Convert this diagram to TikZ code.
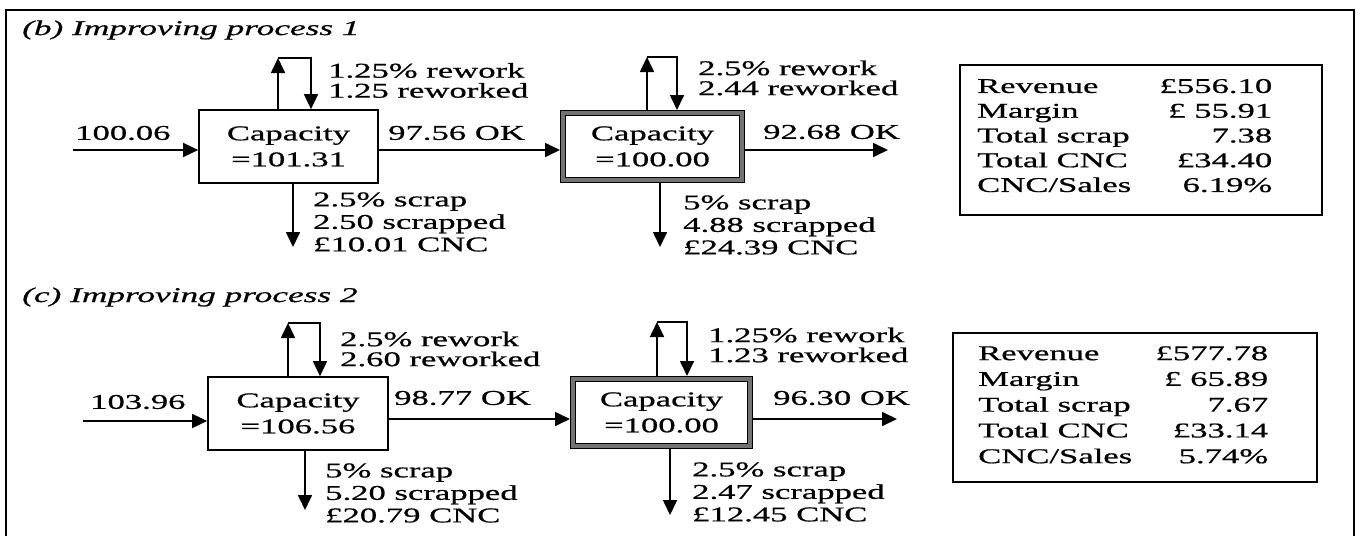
\documentclass[tikz,border=0pt]{standalone}
\usepackage{fontspec}
\setmainfont{Liberation Serif}[FakeStretch=1.65,FakeBold=0.7]
\newfontfamily\ttlfont{Liberation Serif}[FakeStretch=1.68,FakeBold=0.7]
\usetikzlibrary{arrows.meta}
\begin{document}
\begin{tikzpicture}[x=1pt,y=-1pt,
  font=\fontsize{21}{22}\selectfont,
  flow/.style={line width=1.7pt, -{Triangle[length=15pt,width=14pt]}},
  capbox/.style={draw, line width=1.7pt, align=center, inner sep=0pt,
    minimum width=#1, minimum height=73pt, font=\fontsize{21}{26}\selectfont},
  capboxd/.style={draw=black, line width=1.2pt, double=black!55, double distance=4pt,
    outer sep=3.2pt, align=center, inner sep=0pt,
    minimum width=#1, minimum height=66.6pt, font=\fontsize{21}{26}\selectfont},
  lbl/.style={anchor=west, inner sep=0pt, align=left, font=\fontsize{21}{22.5}\selectfont},
  rwk/.style={anchor=west, inner sep=0pt, align=left, font=\fontsize{21}{20}\selectfont},
  ttl/.style={anchor=west, inner sep=0pt, font=\fontsize{21}{22}\ttlfont\itshape},
  sumbox/.style={draw, line width=1.5pt, inner sep=0pt},
  tabnode/.style={anchor=west, inner sep=0pt}
]
\useasboundingbox (0,0) rectangle (1356,536);
% outer frame
\draw[line width=2pt] (5.5,536) -- (5.5,10) -- (1353.5,10) -- (1353.5,536);

% ================= (b) =================
\node[ttl] (tb) at (22,30) {(b) Improving process 1};

\node[capbox=179pt] (b1) at (288.5,146.5) {Capacity\\=101.31};
\node[capboxd=178.6pt] (b2) at (652.5,146.5) {Capacity\\=100.00};

\coordinate (bin) at (73,150);
\coordinate (bout) at (888,150);
\draw[flow] (bin) -- (b1.west |- bin);
\draw[flow] (b1.east |- bin) -- (b2.west |- bin);
\draw[flow] (b2.east |- bout) -- (bout);

\node[lbl] (lbin) at (75,133) {100.06};
\node[lbl] (lb12) at (388,133) {97.56 OK};
\node[lbl] (lbout) at (763,132) {92.68 OK};

% rework loops
\coordinate (b1u) at (278,58);
\coordinate (b1d) at (311,58);
\draw[flow] (b1.north -| b1u) -- (b1u);
\draw[flow] (b1u) -- (b1d) -- (b1.north -| b1d);
\coordinate (b2u) at (647,57);
\coordinate (b2d) at (677,57);
\draw[flow] (b2.north -| b2u) -- (b2u);
\draw[flow] (b2u) -- (b2d) -- (b2.north -| b2d);

\node[rwk] (rb1) at (328,80.5) {1.25\% rework\\1.25 reworked};
\node[rwk] (rb2) at (698,78) {2.5\% rework\\2.44 reworked};

% scrap
\coordinate (b1s) at (293,247);
\coordinate (b2s) at (660,247);
\draw[flow] (b1.south -| b1s) -- (b1s);
\draw[flow] (b2.south -| b2s) -- (b2s);
\node[lbl] (sb1) at (313,222) {2.5\% scrap\\2.50 scrapped\\£10.01 CNC};
\node[lbl] (sb2) at (683,225) {5\% scrap\\4.88 scrapped\\£24.39 CNC};

% summary
\node[sumbox, minimum width=362pt, minimum height=150pt] (sumb) at (1141,140) {};
\node[tabnode] (tabb) at (977,137.5) {\fontsize{21}{24.75}\selectfont%
  \begin{tabular*}{295pt}{@{}l@{\extracolsep{\fill}}r@{}}
  Revenue & £556.10\\
  Margin & £ 55.91\\
  Total scrap & 7.38\\
  Total CNC & £34.40\\
  CNC/Sales & 6.19\%
  \end{tabular*}};

% ================= (c) =================
\node[ttl] (tc) at (22,297) {(c) Improving process 2};

\node[capbox=180pt] (c1) at (298,413.5) {Capacity\\=106.56};
\node[capboxd=176.6pt] (c2) at (661.5,412.5) {Capacity\\=100.00};

\coordinate (cin) at (83,421);
\coordinate (cout) at (897,419);
\draw[flow] (cin) -- (c1.west |- cin);
\draw[flow] (c1.east |- cout) -- (c2.west |- cout);
\draw[flow] (c2.east |- cout) -- (cout);

\node[lbl] (lcin) at (90,402) {103.96};
\node[lbl] (lc12) at (394,398) {98.77 OK};
\node[lbl] (lcout) at (773,398) {96.30 OK};

\coordinate (c1u) at (288,323);
\coordinate (c1d) at (320,323);
\draw[flow] (c1.north -| c1u) -- (c1u);
\draw[flow] (c1u) -- (c1d) -- (c1.north -| c1d);
\coordinate (c2u) at (657,322);
\coordinate (c2d) at (687,322);
\draw[flow] (c2.north -| c2u) -- (c2u);
\draw[flow] (c2u) -- (c2d) -- (c2.north -| c2d);

\node[rwk] (rc1) at (340,349) {2.5\% rework\\2.60 reworked};
\node[rwk] (rc2) at (708,345) {1.25\% rework\\1.23 reworked};

\coordinate (c1s) at (305,510);
\coordinate (c2s) at (670,515);
\draw[flow] (c1.south -| c1s) -- (c1s);
\draw[flow] (c2.south -| c2s) -- (c2s);
\node[lbl] (sc1) at (325,493) {5\% scrap\\5.20 scrapped\\£20.79 CNC};
\node[lbl] (sc2) at (692,492) {2.5\% scrap\\2.47 scrapped\\£12.45 CNC};

\node[sumbox, minimum width=364pt, minimum height=149pt] (sumc) at (1135,407.5) {};
\node[tabnode] (tabc) at (978,406.5) {\fontsize{21}{25.75}\selectfont%
  \begin{tabular*}{290pt}{@{}l@{\extracolsep{\fill}}r@{}}
  Revenue & £577.78\\
  Margin & £ 65.89\\
  Total scrap & 7.67\\
  Total CNC & £33.14\\
  CNC/Sales & 5.74\%
  \end{tabular*}};
\end{tikzpicture}
\end{document}
